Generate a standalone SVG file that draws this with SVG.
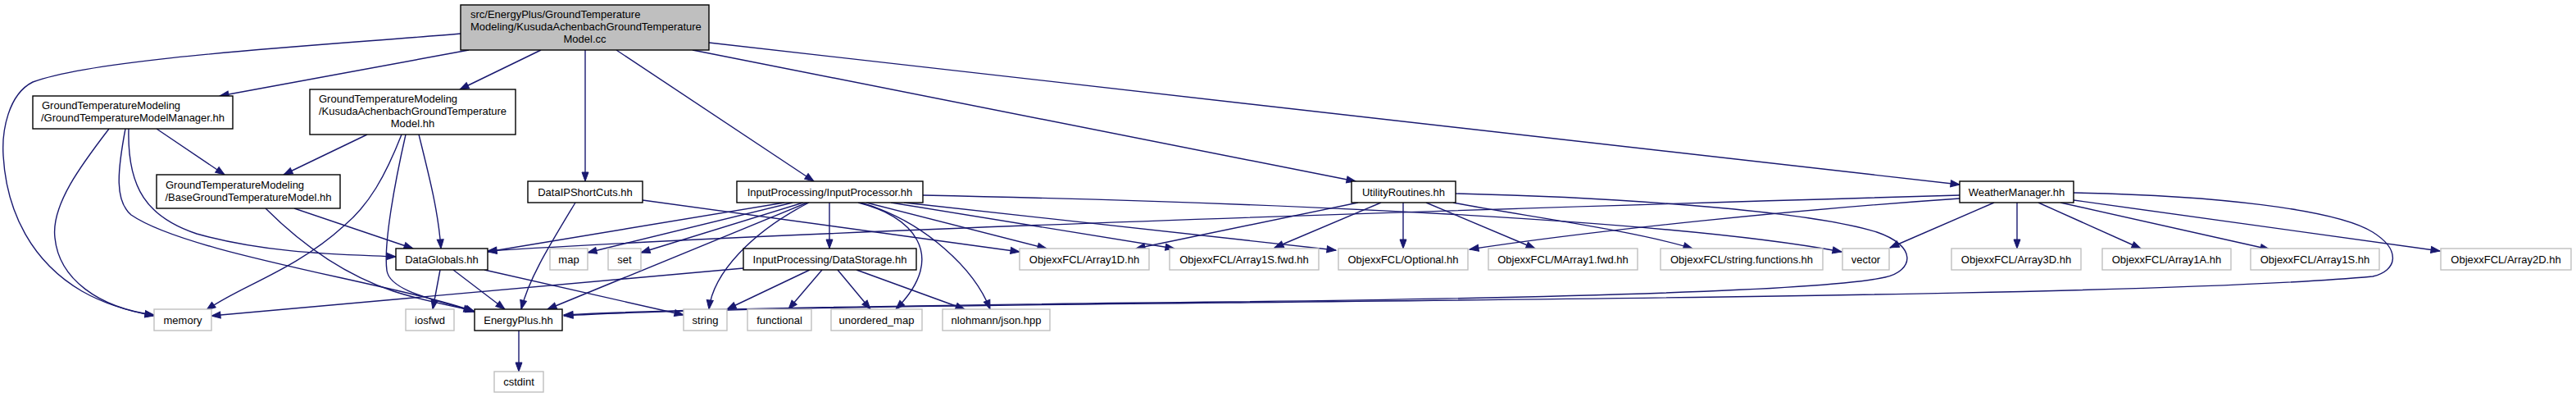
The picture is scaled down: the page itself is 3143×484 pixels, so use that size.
<svg xmlns="http://www.w3.org/2000/svg" width="3143" height="484" viewBox="0 0 3143 484">
<defs>
<marker id="ah" markerUnits="userSpaceOnUse" markerWidth="12" markerHeight="9" refX="11" refY="4" orient="auto" overflow="visible">
<path d="M0,0 L11,4 L0,8 Z" fill="#191970" stroke="#191970" stroke-width="1"/>
</marker>
</defs>
<style>
.n rect{fill:#ffffff;stroke:#000000;stroke-width:1.4}
.g rect{fill:#ffffff;stroke:#bfbfbf;stroke-width:1.4}
.m rect{fill:#bfbfbf;stroke:#000000;stroke-width:1.4}
text{font-family:"Liberation Sans",Arial,sans-serif;font-size:13px;fill:#000000}
.c{text-anchor:middle}
#edges path{fill:none;stroke:#191970;stroke-width:1.4;marker-end:url(#ah)}
</style>
<rect width="3143" height="484" fill="#ffffff"/>
<g id="edges">
<path d="M562,41 C400,55 120,70 40,100 C10,115 2,160 4,190 C8,260 40,320 100,355 C130,372 160,380 188,385"/>
<path d="M572,61 L268,117"/>
<path d="M660,61 L561,109"/>
<path d="M714,61 L714,221"/>
<path d="M752,61 L993,221"/>
<path d="M845,61 L1654,221"/>
<path d="M865,52 L2391,225"/>
<path d="M191,157 L274,213"/>
<path d="M133,157 C100,200 62,250 67,290 C72,340 120,375 188,384"/>
<path d="M153,157 C143,210 140,245 160,262 C230,310 480,345 579,380"/>
<path d="M157,157 C155,230 180,265 240,285 C330,310 420,310 483,313"/>
<path d="M448,164 L346,213"/>
<path d="M490,164 C470,215 450,250 420,275 C360,330 290,350 252,378"/>
<path d="M495,164 C480,230 468,300 472,330 C476,355 530,365 579,380"/>
<path d="M511,164 C525,220 535,260 538,303"/>
<path d="M359,254 L504,303"/>
<path d="M324,254 C370,300 420,335 480,355 C520,368 550,372 577,379"/>
<path d="M537,329 L528,377"/>
<path d="M553,329 L616,377"/>
<path d="M591,329 L834,384"/>
<path d="M702,247 C670,300 645,340 636,377"/>
<path d="M784,244 L1244,307"/>
<path d="M633,403 L633,453"/>
<path d="M957,247 L595,307"/>
<path d="M967,247 L717,308"/>
<path d="M980,247 L782,308"/>
<path d="M985,247 L668,377"/>
<path d="M987,247 C917,283 870,333 865,377"/>
<path d="M1012,247 L1012,303"/>
<path d="M1047,247 C1110,262 1160,310 1093,377"/>
<path d="M1050,247 C1130,270 1190,330 1208,377"/>
<path d="M1057,247 L1277,303"/>
<path d="M1087,247 L1433,303"/>
<path d="M1103,247 L1630,305"/>
<path d="M1126,238 C1600,248 2050,270 2247,307"/>
<path d="M907,327 L258,385"/>
<path d="M988,329 L887,377"/>
<path d="M1003,329 L962,377"/>
<path d="M1022,329 L1062,377"/>
<path d="M1045,329 L1177,377"/>
<path d="M1657,247 L1386,303"/>
<path d="M1685,247 L1555,302"/>
<path d="M1712,247 L1712,303"/>
<path d="M1740,247 L1873,303"/>
<path d="M1773,247 C1850,262 1990,280 2065,303"/>
<path d="M1776,236 C1950,240 2200,255 2290,283 C2340,300 2335,330 2300,338 C2240,352 2000,362 1500,368 C1100,372 800,378 688,384"/>
<path d="M2391,238 C1800,255 1000,280 595,306"/>
<path d="M2391,242 C2200,255 1950,280 1793,304"/>
<path d="M2433,247 L2306,302"/>
<path d="M2461,247 L2461,303"/>
<path d="M2487,247 L2612,303"/>
<path d="M2514,247 L2769,304"/>
<path d="M2530,244 L2977,306"/>
<path d="M2530,235 C2700,238 2850,255 2895,283 C2930,305 2925,330 2895,337 C2700,355 2200,362 1500,369 C1100,373 800,378 688,385"/>
</g>
<g id="main" class="m"><rect x="562" y="6" width="303" height="55"/>
<text x="574" y="22">src/EnergyPlus/GroundTemperature</text>
<text x="574" y="37">Modeling/KusudaAchenbachGroundTemperature</text>
<text class="c" x="713.5" y="52">Model.cc</text></g>
<g id="gtmmanager" class="n"><rect x="40" y="117" width="244" height="40"/>
<text x="51" y="133">GroundTemperatureModeling</text>
<text class="c" x="162" y="148">/GroundTemperatureModelManager.hh</text></g>
<g id="kusudahh" class="n"><rect x="378" y="109" width="251" height="55"/>
<text x="389" y="125">GroundTemperatureModeling</text>
<text x="389" y="140">/KusudaAchenbachGroundTemperature</text>
<text class="c" x="503.5" y="155">Model.hh</text></g>
<g id="basegtm" class="n"><rect x="191" y="213" width="224" height="41"/>
<text x="202" y="230">GroundTemperatureModeling</text>
<text class="c" x="303" y="245">/BaseGroundTemperatureModel.hh</text></g>
<g id="dataipshortcuts" class="n"><rect x="644" y="221" width="140" height="26"/><text class="c" x="714" y="238.5">DataIPShortCuts.hh</text></g>
<g id="inputprocessor" class="n"><rect x="899" y="221" width="227" height="26"/><text class="c" x="1012.5" y="238.5">InputProcessing/InputProcessor.hh</text></g>
<g id="utilityroutines" class="n"><rect x="1649" y="221" width="127" height="26"/><text class="c" x="1712.5" y="238.5">UtilityRoutines.hh</text></g>
<g id="weathermanager" class="n"><rect x="2391" y="221" width="139" height="26"/><text class="c" x="2460.5" y="238.5">WeatherManager.hh</text></g>
<g id="dataglobals" class="n"><rect x="483" y="303" width="112" height="26"/><text class="c" x="539" y="320.5">DataGlobals.hh</text></g>
<g id="map" class="g"><rect x="671" y="303" width="46" height="26"/><text class="c" x="694" y="320.5">map</text></g>
<g id="set" class="g"><rect x="742" y="303" width="40" height="26"/><text class="c" x="762" y="320.5">set</text></g>
<g id="datastorage" class="n"><rect x="907" y="303" width="211" height="26"/><text class="c" x="1012.5" y="320.5">InputProcessing/DataStorage.hh</text></g>
<g id="array1d" class="g"><rect x="1244" y="303" width="158" height="26"/><text class="c" x="1323" y="320.5">ObjexxFCL/Array1D.hh</text></g>
<g id="array1sfwd" class="g"><rect x="1427" y="303" width="182" height="26"/><text class="c" x="1518" y="320.5">ObjexxFCL/Array1S.fwd.hh</text></g>
<g id="optional" class="g"><rect x="1633" y="303" width="158" height="26"/><text class="c" x="1712" y="320.5">ObjexxFCL/Optional.hh</text></g>
<g id="marray1fwd" class="g"><rect x="1816" y="303" width="182" height="26"/><text class="c" x="1907" y="320.5">ObjexxFCL/MArray1.fwd.hh</text></g>
<g id="stringfunctions" class="g"><rect x="2026" y="303" width="198" height="26"/><text class="c" x="2125" y="320.5">ObjexxFCL/string.functions.hh</text></g>
<g id="vector" class="g"><rect x="2248" y="303" width="57" height="26"/><text class="c" x="2276.5" y="320.5">vector</text></g>
<g id="array3d" class="g"><rect x="2381" y="303" width="158" height="26"/><text class="c" x="2460" y="320.5">ObjexxFCL/Array3D.hh</text></g>
<g id="array1a" class="g"><rect x="2565" y="303" width="157" height="26"/><text class="c" x="2643.5" y="320.5">ObjexxFCL/Array1A.hh</text></g>
<g id="array1s" class="g"><rect x="2746" y="303" width="157" height="26"/><text class="c" x="2824.5" y="320.5">ObjexxFCL/Array1S.hh</text></g>
<g id="array2d" class="g"><rect x="2978" y="303" width="159" height="26"/><text class="c" x="3057.5" y="320.5">ObjexxFCL/Array2D.hh</text></g>
<g id="memory" class="g"><rect x="188" y="377" width="70" height="26"/><text class="c" x="223" y="394.5">memory</text></g>
<g id="iosfwd" class="g"><rect x="495" y="377" width="59" height="26"/><text class="c" x="524.5" y="394.5">iosfwd</text></g>
<g id="energyplus" class="n"><rect x="579" y="377" width="107" height="26"/><text class="c" x="632.5" y="394.5">EnergyPlus.hh</text></g>
<g id="string" class="g"><rect x="834" y="377" width="53" height="26"/><text class="c" x="860.5" y="394.5">string</text></g>
<g id="functional" class="g"><rect x="912" y="377" width="78" height="26"/><text class="c" x="951" y="394.5">functional</text></g>
<g id="unorderedmap" class="g"><rect x="1014" y="377" width="111" height="26"/><text class="c" x="1069.5" y="394.5">unordered_map</text></g>
<g id="json" class="g"><rect x="1150" y="377" width="131" height="26"/><text class="c" x="1215.5" y="394.5">nlohmann/json.hpp</text></g>
<g id="cstdint" class="g"><rect x="603" y="453" width="60" height="25"/><text class="c" x="633" y="470">cstdint</text></g>
</svg>
